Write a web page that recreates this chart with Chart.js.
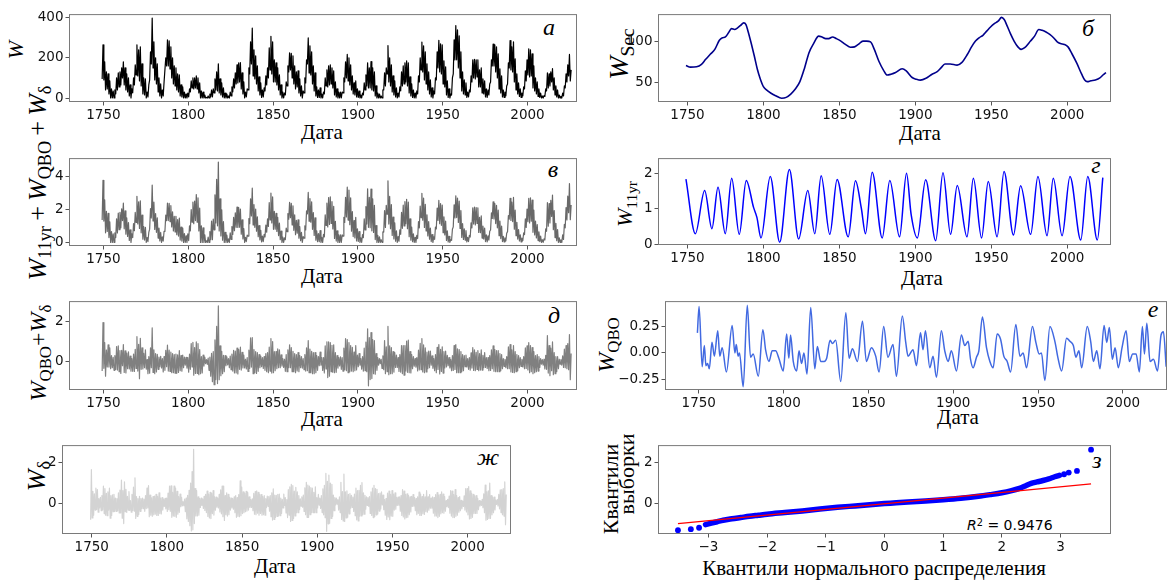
<!DOCTYPE html>
<html lang="ru">
<head>
<meta charset="utf-8">
<title>Числа Вольфа и их компоненты</title>
<script src="https://cdn.jsdelivr.net/npm/chart.js@4.4.3/dist/chart.umd.min.js"></script>
<style>
  html, body { margin: 0; padding: 0; background: #fff; }
  #fig { position: relative; width: 1173px; height: 587px; overflow: hidden; background: #fff; }
  #fig canvas { position: absolute; }
  .yl { position: absolute; transform: translate(-50%, -50%) rotate(-90deg); white-space: nowrap;
        font-family: 'Liberation Serif', 'DejaVu Serif', serif; line-height: 1; color: #000; }
  .yl sub { font-size: 0.7em; vertical-align: -0.3em; line-height: 0; font-style: normal; }
  .xl { position: absolute; transform: translateX(-50%); white-space: nowrap;
        font-family: 'Liberation Serif', serif; font-size: 21px; line-height: 1; color: #000; }
  .pl { position: absolute; transform: translate(-50%, -50%); font-family: 'Liberation Serif', serif;
        font-style: italic; font-size: 24px; line-height: 1; color: #000; }
  .r2 { position: absolute; font-family: 'DejaVu Sans', sans-serif; font-size: 14px; line-height: 1;
        white-space: nowrap; color: #000; }
  .r2 sup { font-size: 0.7em; vertical-align: 0.45em; line-height: 0; }
</style>
</head>
<body>
<div id="fig">
  <!-- y axis labels -->
  <div class="yl" style="left:16px;top:50px;font-size:22px"><i>W</i></div>
  <div class="yl" style="left:619px;top:54px;font-size:28px"><i>W</i><sub>Sec</sub></div>
  <div class="yl" style="left:38px;top:183px;font-size:26px"><i>W</i><sub>11yr</sub>&thinsp;+&thinsp;<i>W</i><sub>QBO</sub>&thinsp;+&thinsp;<i>W</i><sub>δ</sub></div>
  <div class="yl" style="left:625px;top:204px;font-size:22px"><i>W</i><sub>11yr</sub></div>
  <div class="yl" style="left:38px;top:353px;font-size:24px"><i>W</i><sub>QBO</sub>+<i>W</i><sub>δ</sub></div>
  <div class="yl" style="left:606px;top:345px;font-size:24px"><i>W</i><sub>QBO</sub></div>
  <div class="yl" style="left:37px;top:476px;font-size:26px"><i>W</i><sub>δ</sub></div>
  <div class="yl" style="left:611px;top:489px;font-size:22px">Квантили</div>
  <div class="yl" style="left:627px;top:474px;font-size:22px">выборки</div>

  <!-- x axis labels -->
  <div class="xl" style="left:322px;top:122px">Дата</div>
  <div class="xl" style="left:920px;top:123px">Дата</div>
  <div class="xl" style="left:322px;top:266px">Дата</div>
  <div class="xl" style="left:922px;top:268px">Дата</div>
  <div class="xl" style="left:322px;top:409px">Дата</div>
  <div class="xl" style="left:958px;top:407px">Дата</div>
  <div class="xl" style="left:275px;top:556px">Дата</div>
  <div class="xl" style="left:874px;top:558px">Квантили нормального распределения</div>

  <!-- panel letters -->
  <div class="pl" style="left:549px;top:27px">а</div>
  <div class="pl" style="left:1088px;top:28px">б</div>
  <div class="pl" style="left:553px;top:169px">в</div>
  <div class="pl" style="left:1096px;top:165px">г</div>
  <div class="pl" style="left:554px;top:315px">д</div>
  <div class="pl" style="left:1153px;top:309px">е</div>
  <div class="pl" style="left:488px;top:457px">ж</div>
  <div class="pl" style="left:1097px;top:460px">з</div>

  <div class="r2" style="left:967px;top:518px"><i>R</i><sup>2</sup> = 0.9476</div>
</div>

<script>
(function () {
	'use strict';

	// =========================================================
	// Data
	// =========================================================

	var YEAR0 = 1749; // first year of every yearly array below

	// а: monthly sunspot number W, per-year high / low of the monthly values
	var wHi = [265,
		180,130,120,85,45,35,40,100,125,130,
		150,180,150,120,100,65,45,100,165,265,
		240,255,170,100,95,30,65,230,398,280,
		200,170,100,70,40,80,200,290,285,255,
		200,160,150,120,115,65,55,30,20,25,
		45,85,100,100,110,100,75,35,30,15,
		3,10,20,40,45,95,130,170,95,75,
		50,25,20,10,30,55,95,125,165,175,
		176,125,80,30,45,150,280,348,240,210,
		160,105,75,40,50,110,150,250,307,280,
		190,175,150,115,65,30,25,80,160,225,
		222,210,160,130,135,95,60,35,100,190,
		299,260,230,160,125,55,40,50,20,30,
		100,140,160,165,150,135,80,45,30,30,
		30,100,180,217,200,165,110,75,85,45,
		35,15,25,75,115,175,150,181,150,130,
		60,25,20,10,40,125,150,261,200,165,
		110,85,50,25,55,130,160,175,185,175,
		105,70,40,25,35,110,200,279,260,230,
		170,130,90,50,35,100,230,287,270,265,
		185,155,85,45,20,100,290,361,340,310,
		230,130,90,75,30,40,110,190,193,190,
		190,140,150,95,85,45,40,70,190,269,
		265,255,220,145,110,40,30,60,175,286,
		255,280,195,120,75,45,25,55,135,190,
		245,240,220,160,100,80,45,25,10,12,
		45,125,120,130,146,100,60,40,15,8,
		25,60,120,165,217,140];
	var wLo = [95,
		90,40,45,20,0,0,0,20,40,55,
		65,100,65,40,30,10,0,25,65,115,
		110,85,60,20,15,0,5,90,170,150,
		90,70,30,10,0,10,80,160,160,145,
		100,70,60,40,30,10,5,0,0,0,
		5,30,50,45,50,45,25,0,0,0,
		0,0,0,5,5,25,40,35,25,15,
		5,0,0,0,0,10,30,50,70,75,
		80,45,20,0,5,40,120,170,110,95,
		70,35,15,3,5,35,65,100,140,120,
		80,80,65,40,15,0,0,15,60,130,
		140,100,70,45,55,25,10,0,25,75,
		170,125,115,70,35,10,3,3,0,0,
		20,60,55,65,70,50,15,5,0,0,
		0,25,80,100,85,65,40,20,15,5,
		3,0,0,15,40,60,50,50,40,35,
		10,0,0,0,0,40,60,120,80,60,
		30,15,5,0,5,35,60,70,80,60,
		25,10,3,0,0,20,80,140,130,90,
		70,40,20,5,0,20,90,150,130,120,
		70,55,15,3,0,15,120,190,190,150,
		100,35,20,15,3,5,30,80,100,95,
		105,55,55,25,20,5,3,15,80,160,
		160,130,100,45,25,5,3,10,70,150,
		140,130,80,40,20,8,3,10,45,85,
		115,105,110,50,35,20,8,3,0,0,
		8,35,50,60,80,40,15,5,0,0,
		0,10,50,80,110,85];

	// б: secular component W_Sec
	var secYears = [1749,1752,1756,1759,1762,1765,1768,1771,1773,1775,1777,1779,1781,1783,1785,1787,1788.5,
		1790,1792,1794,1796,1798,1800,1802,1805,1808,1812,1815,1818,1821,1824,1827,1830,1833,1836.4,1838.5,
		1841,1843,1845.5,1848,1851,1854,1857.3,1860,1862.5,1865.5,1868,1870.5,1873,1876,1879,1881.5,1884,
		1887,1891.3,1894,1897.9,1900.5,1903.4,1907,1911,1914.4,1917,1919.5,1923,1927.5,1930.5,1934.1,1937,
		1939.6,1942,1944.5,1947,1949.5,1952,1954.5,1956.8,1958.5,1960.5,1962.6,1965,1967.5,1969.7,1972,
		1975.8,1978.5,1981.3,1983.5,1986,1988.5,1991,1993.4,1995.5,1998,2000.5,2003,2006.2,2009.5,2011.5,
		2013.2,2015.5,2018.5,2021.5,2023.5,2025.5];
	var secVals = [70.5,68.5,69,71.5,78,84,90,101,104,105,110,115,114,116,119,122,120,
		111,97,82,66,54,45,41,37,34,31,32,36,42,51,67,86,97,106,105,
		103,103,105,103,100,96,92.5,93,96,100,100,99,90,75.6,65,59,60,
		62,66.5,64,56,54,52.8,55,60,63,68,72.4,72.4,71,74,83.5,93,
		100,104,107,112,117,121,124,128.7,126,118,109,100,93,90,92,
		100,106,114,113,111,108,104,99,97,96,93,85,73.6,60,53,
		51,52,53,55.5,59,62];

	// в: W_11yr + W_QBO + W_delta (W normalised by W_Sec), per-year high / low
	var nHi = [3.76,
		2.57,1.88,1.75,1.24,0.65,0.51,0.58,1.43,1.77,1.82,
		2.03,2.37,1.90,1.48,1.20,0.76,0.52,1.14,1.81,2.79,
		2.45,2.52,1.65,0.96,0.91,0.29,0.60,2.05,3.46,2.43,
		1.74,1.48,0.87,0.60,0.34,0.67,1.65,2.38,2.36,2.22,
		1.85,1.57,1.58,1.38,1.47,0.93,0.87,0.53,0.39,0.52,
		1.00,1.98,2.44,2.50,2.89,2.70,2.08,1.00,0.88,0.45,
		0.09,0.32,0.65,1.29,1.41,2.88,3.82,4.86,2.64,1.97,
		1.25,0.60,0.44,0.21,0.58,0.96,1.51,1.79,2.14,2.11,
		2.02,1.37,0.84,0.30,0.44,1.44,2.64,3.28,2.29,2.02,
		1.55,1.02,0.73,0.38,0.48,1.05,1.43,2.40,2.98,2.75,
		1.88,1.75,1.52,1.17,0.68,0.32,0.27,0.87,1.74,2.42,
		2.36,2.21,1.67,1.33,1.36,0.95,0.60,0.35,1.00,1.90,
		3.02,2.65,2.45,1.80,1.49,0.70,0.53,0.71,0.30,0.48,
		1.67,2.37,2.71,2.75,2.46,2.18,1.27,0.70,0.46,0.45,
		0.45,1.52,2.73,3.34,3.17,2.70,1.86,1.32,1.52,0.82,
		0.65,0.28,0.47,1.42,2.17,3.24,2.73,3.23,2.63,2.24,
		1.02,0.42,0.33,0.16,0.63,1.92,2.24,3.73,2.78,2.29,
		1.53,1.18,0.69,0.35,0.76,1.81,2.25,2.46,2.61,2.43,
		1.42,0.92,0.51,0.30,0.42,1.26,2.20,2.97,2.68,2.30,
		1.67,1.26,0.87,0.47,0.33,0.92,2.07,2.54,2.35,2.26,
		1.55,1.28,0.69,0.36,0.16,0.79,2.27,2.82,2.68,2.50,
		1.93,1.13,0.82,0.71,0.30,0.42,1.18,2.09,2.14,2.11,
		2.09,1.52,1.60,0.99,0.87,0.45,0.39,0.67,1.78,2.45,
		2.35,2.24,1.95,1.29,0.99,0.36,0.27,0.55,1.62,2.67,
		2.43,2.72,1.95,1.21,0.77,0.46,0.26,0.57,1.42,2.02,
		2.66,2.70,2.56,1.95,1.28,1.08,0.64,0.38,0.16,0.21,
		0.82,2.40,2.35,2.55,2.86,1.92,1.15,0.77,0.28,0.15,
		0.46,1.09,2.11,2.80,3.56,2.26];
	var nLo = [1.35,
		1.29,0.58,0.66,0.29,0,0,0,0.29,0.57,0.77,
		0.88,1.32,0.82,0.49,0.36,0.12,0,0.28,0.71,1.21,
		1.12,0.84,0.58,0.19,0.14,0,0.05,0.80,1.48,1.30,
		0.78,0.61,0.26,0.09,0,0.08,0.66,1.31,1.32,1.26,
		0.93,0.69,0.63,0.46,0.38,0.14,0.08,0,0,0,
		0.11,0.70,1.22,1.13,1.32,1.22,0.69,0,0,0,
		0,0,0,0.16,0.16,0.76,1.18,1.00,0.69,0.39,
		0.13,0,0,0,0,0.18,0.48,0.71,0.91,0.90,
		0.92,0.49,0.21,0,0.05,0.38,1.13,1.60,1.05,0.91,
		0.68,0.34,0.15,0.03,0.05,0.33,0.62,0.96,1.36,1.18,
		0.79,0.80,0.66,0.41,0.16,0,0,0.16,0.65,1.40,
		1.49,1.05,0.73,0.46,0.56,0.25,0.10,0,0.25,0.75,
		1.72,1.28,1.22,0.79,0.42,0.13,0.04,0.04,0,0,
		0.33,1.02,0.93,1.08,1.15,0.81,0.24,0.08,0,0,
		0,0.38,1.21,1.54,1.35,1.07,0.68,0.35,0.27,0.09,
		0.06,0,0,0.28,0.75,1.11,0.91,0.89,0.70,0.60,
		0.17,0,0,0,0,0.62,0.90,1.71,1.11,0.83,
		0.42,0.21,0.07,0,0.07,0.49,0.85,0.99,1.13,0.83,
		0.34,0.13,0.04,0,0,0.23,0.88,1.49,1.34,0.90,
		0.69,0.39,0.19,0.05,0,0.18,0.81,1.33,1.13,1.03,
		0.59,0.45,0.12,0.02,0,0.12,0.94,1.48,1.50,1.21,
		0.84,0.30,0.18,0.14,0.03,0.05,0.32,0.88,1.11,1.06,
		1.15,0.60,0.59,0.26,0.20,0.05,0.03,0.14,0.75,1.45,
		1.42,1.14,0.88,0.40,0.23,0.05,0.03,0.09,0.65,1.40,
		1.33,1.26,0.80,0.40,0.20,0.08,0.03,0.10,0.47,0.90,
		1.25,1.18,1.28,0.61,0.45,0.27,0.11,0.05,0,0,
		0.15,0.67,0.98,1.18,1.57,0.77,0.29,0.10,0,0,
		0,0.18,0.88,1.36,1.80,1.37];

	// г: 11-year component, turning points of the curve
	var c11Years = [1749,1755.2,1761.3,1766.1,1770.1,1774.9,1779.1,1784.1,1788.7,1793.5,1795.7,1798.4,
		1804.5,1810.7,1817.1,1823.2,1829.2,1833.8,1838,1843.7,1848.5,1855.8,1860.6,1864.4,1867.2,1871.6,
		1878.2,1883.2,1889.6,1894.2,1897.2,1901.3,1906.8,1913.4,1918.2,1923.2,1927.6,1934,1938.2,1943.6,
		1948,1953.8,1958.4,1964.6,1969.3,1975.9,1980.7,1986.7,1990.8,1996.6,2001.8,2008.9,2013.5,2019.8,2023.4];
	var c11Vals = [1.84,0.30,1.52,0.44,1.61,0.30,1.86,0.28,1.80,1.04,0.76,0.18,
		1.91,0.06,2.11,0.15,1.52,0.30,1.93,0.28,1.83,0.21,1.79,1.03,0.30,2.03,
		0.18,1.80,0.21,2.00,0.85,0.18,1.82,0.10,2.02,0.28,1.66,0.21,1.86,0.18,
		1.77,0.21,2.05,0.26,1.65,0.28,1.91,0.24,1.86,0.24,1.91,0.12,1.91,0.12,1.88];

	// д: W_QBO + W_delta, per-year high / low
	var qdHi = [1.94,
		0.95,0.58,0.83,0.68,0.30,0.21,0.30,0.75,0.78,0.55,
		0.56,0.85,0.54,0.43,0.49,0.28,0.15,0.38,0.61,1.24,
		0.86,1.16,0.69,0.41,0.59,0.10,0.25,0.68,1.68,0.59,
		0.40,0.36,0.23,0.26,0.15,0.25,0.56,0.82,0.57,0.47,
		0.40,0.35,0.38,0.34,0.55,0.30,0.32,0.23,0.21,0.20,
		0.37,0.90,0.96,0.70,0.98,0.90,0.60,0.25,0.32,0.23,
		0.10,0.18,0.22,0.41,0.50,1.08,1.75,2.77,0.78,0.51,
		0.31,0.30,0.24,0.15,0.28,0.38,0.56,0.52,0.67,0.60,
		0.72,0.46,0.32,0.12,0.20,0.57,1.18,1.20,0.60,0.50,
		0.45,0.35,0.28,0.20,0.25,0.40,0.45,0.72,1.15,1.00,
		0.50,0.50,0.63,0.59,0.34,0.15,0.12,0.35,0.59,0.84,
		0.70,0.51,0.40,0.35,0.45,0.30,0.25,0.15,0.35,0.68,
		1.05,0.62,0.51,0.45,0.45,0.30,0.25,0.47,0.20,0.20,
		0.78,0.99,0.99,0.95,0.81,0.84,0.45,0.30,0.20,0.24,
		0.20,0.67,1.15,1.10,0.95,0.80,0.71,0.47,0.80,0.32,
		0.40,0.15,0.25,0.67,0.97,1.63,1.20,1.45,1.09,1.04,
		0.40,0.20,0.15,0.12,0.29,1.05,0.74,1.75,0.78,0.70,
		0.50,0.45,0.33,0.20,0.35,0.80,0.80,0.80,1.02,1.07,
		0.50,0.35,0.25,0.15,0.20,0.57,0.91,1.15,0.83,0.68,
		0.47,0.52,0.53,0.29,0.15,0.35,0.71,0.85,0.61,0.74,
		0.50,0.52,0.31,0.20,0.10,0.30,0.80,0.85,0.63,0.60,
		0.50,0.35,0.30,0.32,0.15,0.20,0.44,0.70,0.59,0.46,
		0.55,0.40,0.59,0.31,0.45,0.20,0.20,0.30,0.59,0.78,
		0.60,0.55,0.55,0.40,0.35,0.15,0.12,0.25,0.73,0.85,
		0.59,0.80,0.50,0.35,0.30,0.20,0.12,0.25,0.68,0.78,
		0.95,0.80,0.70,0.50,0.30,0.35,0.25,0.15,0.10,0.12,
		0.31,1.30,0.80,0.67,0.98,0.45,0.25,0.25,0.12,0.10,
		0.29,0.62,0.80,0.90,1.35,0.40];
	var qdLo = [-0.47,
		-0.33,-0.72,-0.26,-0.27,-0.35,-0.30,-0.43,-0.39,-0.42,-0.50,
		-0.59,-0.20,-0.54,-0.56,-0.35,-0.36,-0.47,-0.48,-0.49,-0.34,
		-0.47,-0.85,-0.38,-0.36,-0.30,-0.37,-0.60,-0.57,-0.30,-0.54,
		-0.60,-0.51,-0.38,-0.25,-0.31,-0.51,-0.43,-0.25,-0.47,-0.49,
		-0.55,-0.55,-0.57,-0.58,-0.54,-0.45,-0.47,-0.30,-0.18,-0.32,
		-0.52,-0.38,-0.26,-0.67,-0.59,-0.58,-0.65,-0.60,-0.56,-0.22,
		-0.10,-0.14,-0.43,-0.72,-1.00,-1.15,-0.89,-1.09,-0.90,-0.70,
		-0.60,-0.50,-0.20,-0.16,-0.30,-0.40,-0.47,-0.56,-0.56,-0.61,
		-0.38,-0.42,-0.31,-0.31,-0.36,-0.49,-0.33,-0.27,-0.60,-0.55,
		-0.59,-0.48,-0.30,-0.25,-0.34,-0.43,-0.50,-0.55,-0.47,-0.57,
		-0.55,-0.45,-0.35,-0.30,-0.30,-0.22,-0.29,-0.48,-0.50,-0.30,
		-0.30,-0.50,-0.50,-0.55,-0.46,-0.50,-0.30,-0.32,-0.40,-0.47,
		-0.45,-0.55,-0.55,-0.60,-0.60,-0.55,-0.43,-0.20,-0.18,-0.44,
		-0.56,-0.36,-0.79,-0.72,-0.50,-0.53,-0.55,-0.53,-0.32,-0.21,
		-0.38,-0.47,-0.40,-0.45,-0.55,-0.50,-0.47,-0.50,-0.45,-0.41,
		-0.25,-0.18,-0.37,-0.47,-0.45,-0.50,-1.20,-0.89,-0.84,-0.60,
		-0.62,-0.43,-0.18,-0.10,-0.34,-0.40,-0.60,-0.50,-0.65,-0.60,
		-0.60,-0.52,-0.29,-0.29,-0.49,-0.52,-0.60,-0.67,-0.46,-0.53,
		-0.55,-0.56,-0.35,-0.23,-0.27,-0.46,-0.41,-0.40,-0.51,-0.55,
		-0.51,-0.35,-0.30,-0.18,-0.33,-0.45,-0.55,-0.39,-0.61,-0.49,
		-0.57,-0.31,-0.26,-0.20,-0.31,-0.45,-0.44,-0.39,-0.55,-0.55,
		-0.55,-0.50,-0.45,-0.25,-0.26,-0.38,-0.42,-0.32,-0.44,-0.45,
		-0.39,-0.45,-0.42,-0.42,-0.30,-0.29,-0.34,-0.45,-0.44,-0.35,
		-0.48,-0.50,-0.50,-0.50,-0.45,-0.35,-0.24,-0.30,-0.35,-0.35,
		-0.51,-0.54,-0.55,-0.50,-0.45,-0.30,-0.24,-0.26,-0.35,-0.34,
		-0.41,-0.55,-0.50,-0.60,-0.55,-0.50,-0.47,-0.29,-0.13,-0.18,
		-0.36,-0.38,-0.57,-0.70,-0.45,-0.65,-0.60,-0.50,-0.35,-0.13,
		-0.17,-0.29,-0.30,-0.35,-0.40,-0.90];

	// е: quasi-biennial component W_QBO
	var qboYears = [1749.2,1750.2,1752,1753.3,1754.2,1755.2,1756.2,1757.8,1759.2,1761.2,1762.4,1763.8,1766.3,
		1769.7,1771.3,1772.1,1773.2,1774,1776.2,1778.6,1780.5,1782.1,1785.1,1787.8,1789.4,1791.4,1793.3,
		1795.3,1797.2,1799.8,1801.8,1803.1,1804.1,1805.7,1807.7,1809.1,1810.6,1812,1813.8,1816,1818.4,
		1819.9,1821.9,1823.9,1825.4,1827.4,1828.8,1830.7,1833.7,1836.7,1838.6,1840.6,1843.5,1846.5,1848.8,
		1851.8,1854.3,1856.3,1859,1861.5,1864.5,1866.5,1870,1872,1873.4,1876.3,1878.3,1880.7,1882.2,1883.6,
		1886.2,1888.1,1890.1,1893,1895,1897,1898.9,1901.9,1904.8,1906.8,1908.8,1910.2,1911.7,1913.7,1915.1,
		1917.2,1919.6,1921.6,1923.5,1925.9,1927.9,1929.8,1931.8,1933.8,1936.9,1939.3,1941.2,1943.2,1946.7,
		1948.7,1950.7,1952,1954,1957,1959.9,1961.9,1963.9,1966.8,1968.8,1970.8,1972.3,1974.1,1975.7,1979,
		1981,1982.6,1984.6,1986.5,1988.9,1990.5,1992,1993.8,1995.4,1997.3,1999.5,2001.9,2003.8,2005.8,
		2007.8,2009.7,2011.5,2012.7,2014.1,2016,2018,2020.4,2022.5,2023.9,2025.5];
	var qboVals = [0.19,0.44,-0.13,0.07,-0.12,-0.10,-0.15,0.10,-0.03,0.21,-0.03,0.05,-0.18,
		0.26,0.00,0.08,-0.03,0.00,-0.32,0.45,-0.04,-0.01,-0.22,0.22,0.03,-0.08,0.02,
		0.02,-0.05,-0.17,0.18,-0.05,0.17,-0.08,-0.17,0.02,-0.10,0.00,-0.20,0.43,-0.15,
		0.06,-0.08,-0.08,-0.05,0.12,0.09,0.12,-0.27,0.38,-0.05,0.04,-0.08,0.30,-0.08,
		0.05,-0.03,-0.18,0.25,-0.04,0.08,-0.22,0.35,0.10,-0.03,0.03,-0.12,0.19,0.03,0.21,
		-0.14,-0.03,-0.23,0.21,0.02,-0.08,0.02,-0.17,0.17,0.07,0.11,-0.06,-0.14,-0.04,0.02,
		0.34,0.05,-0.08,-0.14,0.18,0.13,-0.03,-0.08,-0.18,0.27,-0.03,0.00,-0.14,0.25,
		0.10,-0.01,0.00,-0.26,0.25,0.11,-0.06,-0.17,0.14,0.11,0.07,-0.04,0.02,-0.14,0.25,
		0.11,-0.08,0.02,-0.15,0.26,0.10,0.24,-0.06,0.05,-0.14,0.05,0.21,-0.08,-0.01,
		-0.01,-0.18,0.25,-0.01,0.28,-0.08,-0.06,-0.17,0.17,0.20,-0.13];

	// ж: residual W_delta, per-year high / low
	var dHi = [1.64,
		0.60,0.48,0.75,0.68,0.25,0.31,0.40,0.85,0.73,0.50,
		0.58,0.75,0.39,0.43,0.46,0.28,0.25,0.53,0.66,1.14,
		0.64,1.06,0.69,0.36,0.59,0.15,0.45,0.80,1.25,0.35,
		0.25,0.36,0.25,0.28,0.23,0.40,0.76,0.87,0.42,0.29,
		0.35,0.37,0.45,0.36,0.53,0.28,0.30,0.23,0.26,0.28,
		0.52,0.85,0.86,0.55,0.85,0.75,0.60,0.35,0.47,0.31,
		0.10,0.23,0.27,0.41,0.65,1.00,1.55,2.62,0.73,0.63,
		0.33,0.25,0.27,0.23,0.36,0.46,0.61,0.47,0.55,0.50,
		0.63,0.34,0.32,0.27,0.45,0.67,0.85,0.85,0.40,0.53,
		0.45,0.31,0.28,0.25,0.33,0.40,0.30,0.44,1.10,0.80,
		0.58,0.52,0.60,0.54,0.34,0.20,0.24,0.50,0.59,0.62,
		0.55,0.46,0.44,0.35,0.39,0.25,0.37,0.35,0.40,0.53,
		0.72,0.42,0.41,0.45,0.47,0.28,0.22,0.47,0.30,0.20,
		0.68,0.81,0.93,0.87,0.61,0.79,0.57,0.40,0.24,0.34,
		0.42,0.77,1.03,0.90,0.85,0.78,0.75,0.55,0.82,0.30,
		0.45,0.27,0.40,0.72,0.89,1.46,1.08,1.38,1.00,0.94,
		0.42,0.30,0.28,0.20,0.33,1.03,0.59,1.43,0.58,0.62,
		0.46,0.49,0.41,0.32,0.47,0.75,0.63,0.65,0.89,1.02,
		0.53,0.41,0.34,0.30,0.35,0.57,0.76,0.89,0.73,0.70,
		0.49,0.52,0.58,0.42,0.20,0.25,0.51,0.61,0.46,0.64,
		0.47,0.53,0.31,0.32,0.34,0.40,0.68,0.61,0.45,0.48,
		0.40,0.33,0.36,0.44,0.30,0.25,0.34,0.56,0.47,0.35,
		0.46,0.34,0.63,0.33,0.44,0.28,0.33,0.30,0.44,0.54,
		0.42,0.45,0.57,0.47,0.35,0.15,0.22,0.37,0.63,0.61,
		0.44,0.68,0.40,0.30,0.35,0.17,0.12,0.38,0.73,0.73,
		0.83,0.62,0.50,0.45,0.38,0.39,0.26,0.16,0.13,0.22,
		0.48,0.90,0.58,0.62,1.00,0.40,0.32,0.32,0.18,0.20,
		0.45,0.67,0.68,0.73,1.05,0.45];
	var dLo = [-0.77,
		-0.68,-0.55,-0.30,-0.27,-0.40,-0.20,-0.33,-0.29,-0.47,-0.55,
		-0.57,-0.30,-0.69,-0.56,-0.38,-0.36,-0.37,-0.33,-0.44,-0.44,
		-0.69,-0.95,-0.38,-0.41,-0.30,-0.32,-0.40,-0.32,-0.35,-0.70,
		-0.60,-0.51,-0.36,-0.23,-0.23,-0.36,-0.23,-0.20,-0.62,-0.55,
		-0.60,-0.53,-0.50,-0.56,-0.56,-0.47,-0.49,-0.30,-0.13,-0.24,
		-0.37,-0.28,-0.36,-0.65,-0.59,-0.60,-0.65,-0.50,-0.41,-0.14,
		-0.10,-0.09,-0.38,-0.72,-0.85,-1.05,-1.30,-1.25,-0.95,-0.58,
		-0.58,-0.55,-0.17,-0.08,-0.22,-0.32,-0.42,-0.61,-0.68,-0.71,
		-0.47,-0.54,-0.31,-0.16,-0.20,-0.39,-0.48,-0.62,-0.80,-0.52,
		-0.59,-0.52,-0.30,-0.20,-0.26,-0.43,-0.65,-0.60,-0.62,-0.57,
		-0.47,-0.43,-0.38,-0.35,-0.30,-0.17,-0.17,-0.33,-0.50,-0.52,
		-0.45,-0.55,-0.46,-0.55,-0.52,-0.55,-0.18,-0.12,-0.35,-0.62,
		-0.78,-0.75,-0.65,-0.60,-0.58,-0.57,-0.46,-0.20,-0.08,-0.44,
		-0.66,-0.54,-0.85,-0.80,-0.70,-0.58,-0.43,-0.43,-0.28,-0.11,
		-0.16,-0.37,-0.52,-0.65,-0.65,-0.52,-0.43,-0.42,-0.43,-0.43,
		-0.20,-0.06,-0.22,-0.42,-0.53,-0.67,-1.32,-0.96,-0.93,-0.70,
		-0.60,-0.33,-0.05,-0.02,-0.30,-0.42,-0.75,-0.82,-0.85,-0.68,
		-0.64,-0.48,-0.21,-0.17,-0.37,-0.57,-0.77,-0.82,-0.59,-0.58,
		-0.52,-0.50,-0.26,-0.08,-0.12,-0.46,-0.56,-0.66,-0.61,-0.53,
		-0.49,-0.35,-0.25,-0.05,-0.28,-0.55,-0.75,-0.63,-0.76,-0.59,
		-0.60,-0.30,-0.26,-0.08,-0.07,-0.35,-0.56,-0.63,-0.73,-0.67,
		-0.65,-0.52,-0.39,-0.13,-0.11,-0.33,-0.52,-0.46,-0.56,-0.56,
		-0.48,-0.51,-0.38,-0.40,-0.31,-0.21,-0.21,-0.45,-0.59,-0.59,
		-0.66,-0.60,-0.48,-0.43,-0.45,-0.35,-0.14,-0.18,-0.45,-0.59,
		-0.66,-0.66,-0.60,-0.55,-0.40,-0.33,-0.24,-0.13,-0.30,-0.39,
		-0.53,-0.73,-0.70,-0.65,-0.47,-0.46,-0.46,-0.28,-0.10,-0.08,
		-0.19,-0.43,-0.79,-0.75,-0.70,-0.70,-0.53,-0.43,-0.29,-0.03,
		-0.10,-0.24,-0.42,-0.52,-0.59,-1.00];

	// з: Q-Q plot of W_delta against the normal distribution
	var qqX = [-3.05,-2.95,-2.85,-2.75,-2.6,-2.45,-2.3,-2.15,-2.0,-1.7,-1.4,-1.1,-0.8,-0.5,-0.2,0.1,0.4,
		0.7,1.0,1.3,1.6,1.8,2.0,2.15,2.3,2.4,2.5,2.6,2.7,2.8,2.9,2.98];
	var qqY = [-1.0,-0.93,-0.86,-0.79,-0.72,-0.66,-0.6,-0.55,-0.5,-0.42,-0.34,-0.25,-0.17,-0.1,-0.03,0.03,0.09,
		0.14,0.2,0.27,0.36,0.44,0.53,0.62,0.74,0.86,0.98,1.05,1.12,1.2,1.3,1.37];
	var qqTailX = [-3.52,-3.3,-3.16,3.06,3.14,3.28,3.52];
	var qqTailY = [-1.27,-1.22,-1.15,1.42,1.5,1.58,2.6];
	var fitX = [-3.52, 3.52];
	var fitY = [-0.95, 0.96];

	var yearTicks = [1750, 1800, 1850, 1900, 1950, 2000];

	// =========================================================
	// Helpers
	// =========================================================

	var PAD_L = 64, PAD_T = 8, PAD_R = 8, AXIS_H = 26;

	// Yearly high/low pairs drawn as one zig-zag line, as the dense monthly trace looks.
	function band(hi, lo) {
		var pts = [];
		for (var i = 0; i < hi.length; i++) {
			pts.push({ x: YEAR0 + i + 0.25, y: lo[i] });
			pts.push({ x: YEAR0 + i + 0.75, y: hi[i] });
		}
		return pts;
	}

	function xy(xs, ys) {
		return xs.map(function (x, i) { return { x: x, y: ys[i] }; });
	}

	function fmt(decimals) {
		return function (v) {
			var s = Math.abs(v).toFixed(decimals);
			return v < 0 ? '\u2212' + s : s;
		};
	}

	function line(data, color, width, extra) {
		var ds = {
			data: data, borderColor: color, backgroundColor: color, borderWidth: width,
			pointRadius: 0, fill: false, tension: 0, borderJoinStyle: 'round', showLine: true
		};
		for (var k in extra) ds[k] = extra[k];
		return ds;
	}

	var framePlugin = {
		id: 'frame',
		afterDraw: function (chart) {
			var a = chart.chartArea, ctx = chart.ctx;
			ctx.save();
			ctx.strokeStyle = '#7a7a7a';
			ctx.lineWidth = 1;
			ctx.strokeRect(a.left + 0.5, a.top + 0.5, a.right - a.left - 1, a.bottom - a.top - 1);
			ctx.restore();
		}
	};

	function axis(dir, range, ticks, decimals) {
		return {
			type: 'linear',
			position: dir === 'x' ? 'bottom' : 'left',
			min: range[0],
			max: range[1],
			afterBuildTicks: function (s) {
				s.ticks = ticks.map(function (v) { return { value: v }; });
			},
			afterFit: function (s) {
				if (dir === 'x') s.height = AXIS_H; else s.width = PAD_L;
			},
			grid: { display: true, drawOnChartArea: false, drawTicks: true, tickLength: 3.5, color: '#555', lineWidth: 1 },
			border: { display: false },
			ticks: {
				autoSkip: false, maxRotation: 0, padding: 2, color: '#111',
				font: { family: 'DejaVu Sans', size: 13.5 },
				callback: fmt(decimals)
			}
		};
	}

	// frame = [left, top, width, height] of the plotting box on the page
	function panel(frame, xRange, yRange, xTicks, yTicks, xDec, yDec, datasets) {
		var c = document.createElement('canvas');
		c.width = frame[2] + PAD_L + PAD_R;
		c.height = frame[3] + PAD_T + AXIS_H;
		c.style.left = (frame[0] - PAD_L) + 'px';
		c.style.top = (frame[1] - PAD_T) + 'px';
		document.getElementById('fig').appendChild(c);

		new Chart(c, {
			type: 'line',
			data: { datasets: datasets },
			options: {
				responsive: false,
				animation: false,
				events: [],
				layout: { padding: { left: 0, top: PAD_T, right: PAD_R, bottom: 0 } },
				plugins: { legend: { display: false }, tooltip: { enabled: false } },
				scales: {
					x: axis('x', xRange, xTicks, xDec),
					y: axis('y', yRange, yTicks, yDec)
				}
			},
			plugins: [framePlugin]
		});
	}

	// =========================================================
	// Panels
	// =========================================================

	panel([69, 12, 508, 90], [1729.7, 2029.2], [-19.9, 417.9], yearTicks, [0, 200, 400], 0, 0,
		[line(band(wHi, wLo), '#000000', 1.2)]);

	panel([658, 12, 453, 90], [1730.6, 2028.8], [26.4, 132.6], yearTicks, [50, 100], 0, 0,
		[line(xy(secYears, secVals), '#00008b', 1.6, { cubicInterpolationMode: 'monotone' })]);

	panel([69, 156, 508, 90], [1729.7, 2029.2], [-0.22, 5.1], yearTicks, [0, 2, 4], 0, 0,
		[line(band(nHi, nLo), '#696969', 1.2)]);

	panel([658, 156, 453, 89], [1730.6, 2028.8], [-0.02, 2.43], yearTicks, [0, 1, 2], 0, 0,
		[line(xy(c11Years, c11Vals), '#0000ff', 1.5, { cubicInterpolationMode: 'monotone' })]);

	panel([69, 299, 508, 91], [1729.7, 2029.2], [-1.41, 3.01], yearTicks, [0, 2], 0, 0,
		[line(band(qdHi, qdLo), '#808080', 1.2)]);

	panel([665, 299, 502, 91], [1730.1, 2026.0], [-0.35, 0.49], yearTicks, [-0.25, 0, 0.25], 0, 2,
		[line(xy(qboYears, qboVals), '#4169e1', 1.5, { cubicInterpolationMode: 'monotone' })]);

	panel([62, 443, 449, 91], [1730.2, 2028.9], [-1.45, 2.82], yearTicks, [0, 2], 0, 0,
		[line(band(dHi, dLo), '#d3d3d3', 1.2)]);

	panel([658, 443, 453, 91], [-3.86, 3.86], [-1.45, 2.82], [-3, -2, -1, 0, 1, 2, 3], [0, 2], 0, 0, [
		line(xy(fitX, fitY), '#ff0000', 1.2),
		line(xy(qqX, qqY), '#0000ff', 5.5, { cubicInterpolationMode: 'monotone', borderCapStyle: 'round' }),
		line(xy(qqTailX, qqTailY), '#0000ff', 0, { showLine: false, pointRadius: 2.9, pointBorderWidth: 0 })
	]);
})();
</script>
</body>
</html>
